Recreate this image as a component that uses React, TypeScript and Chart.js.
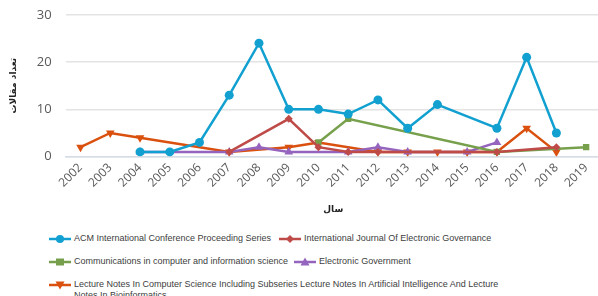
import React, { useEffect, useRef } from "react";
import { Chart, registerables } from "chart.js";

Chart.register(...registerables);

const years = ["2002","2003","2004","2005","2006","2007","2008","2009","2010","2011","2012","2013","2014","2015","2016","2017","2018","2019"];
const acm = [null, null, 1, 1, 3, 13, 24, 10, 10, 9, 12, 6, 11, null, 6, 21, 5, null];
const ijeg = [null, null, null, null, null, 1, null, 8, 2, 1, 1, null, null, null, 1, null, 2, null];
const ccis = [null, null, null, null, null, null, null, null, 3, 8, null, null, null, null, 1, null, null, 2];
const egov = [null, null, 1, null, null, 1, 2, 1, null, 1, 2, 1, null, 1, 3, null, null, null];
const lncs = [2, 5, 4, null, null, 1, null, 2, 3, null, 1, 1, 1, 1, 1, 6, 1, null];
const yTicks = [0, 10, 20, 30];

const seriesNames = [
  "ACM International Conference Proceeding Series",
  "International Journal Of Electronic Governance",
  "Communications in computer and information science",
  "Electronic Government",
  "Lecture Notes In Computer Science Including Subseries Lecture Notes In Artificial Intelligence And Lecture Notes In Bioinformatics",
];
const colors = ["#11A0D0", "#BE4B48", "#77A04C", "#9464BE", "#DA500E"];
const styles: any[] = ["circle", "rectRot", "rect", "triangle", "triangle"];
const rotations = [0, 0, 0, 0, 180];
const radii = [4.5, 4, 4.5, 5, 5];

function Icon({ i }: { i: number }) {
  const c = colors[i];
  let marker: any;
  if (i === 0) marker = <circle cx={11} cy={5} r={4} fill={c} />;
  else if (i === 1) marker = <polygon points="11,1 15,5 11,9 7,5" fill={c} />;
  else if (i === 2) marker = <rect x={7} y={1.5} width={8} height={7} fill={c} />;
  else if (i === 3) marker = <polygon points="11,0.5 15.5,8.5 6.5,8.5" fill={c} />;
  else marker = <polygon points="6.5,1.5 15.5,1.5 11,9.5" fill={c} />;
  return (
    <svg width={22} height={10} style={{ flex: "none", marginRight: 3 }}>
      <line x1={0} y1={5} x2={22} y2={5} stroke={c} strokeWidth={2.5} />
      {marker}
    </svg>
  );
}

function Item({ i, style }: { i: number; style?: any }) {
  return (
    <div style={{ display: "flex", alignItems: "flex-start", ...style }}>
      <div style={{ height: 12, display: "flex", alignItems: "center" }}><Icon i={i} /></div>
      <span>{seriesNames[i]}</span>
    </div>
  );
}

export default function App() {
  const ref = useRef<HTMLCanvasElement>(null);
  useEffect(() => {
    const data = [acm, ijeg, ccis, egov, lncs];
    const chart = new Chart(ref.current!, {
      type: "line",
      data: {
        labels: years,
        datasets: data.map((d, i) => ({
          label: seriesNames[i],
          data: d,
          borderColor: colors[i],
          backgroundColor: colors[i],
          borderWidth: 2.5,
          pointStyle: styles[i],
          pointRotation: rotations[i],
          pointRadius: radii[i],
          pointBorderWidth: 0,
          spanGaps: true,
          tension: 0,
        })),
      },
      options: {
        animation: false,
        responsive: false,
        layout: { padding: { left: 8, right: 1, top: 0, bottom: 0 } },
        plugins: { legend: { display: false }, tooltip: { enabled: false } },
        scales: {
          x: {
            offset: true,
            grid: { display: false, drawTicks: false },
            border: { color: "#D6DCE5", width: 1.5 },
            ticks: {
              minRotation: 45,
              maxRotation: 45,
              color: "#595959",
              font: { family: "Open Sans", size: 12 },
              padding: 4,
            },
            title: {
              display: true,
              text: "سال",
              color: "#222",
              font: { family: "DejaVu Sans", size: 9, weight: "bold" },
              padding: { top: 10, bottom: 0 },
            },
          },
          y: {
            min: 0,
            max: 30,
            afterBuildTicks: (s: any) => { s.ticks = yTicks.map((v) => ({ value: v })); },
            grid: { color: "#E3E3E3", lineWidth: 1.5, drawTicks: false },
            border: { display: false },
            ticks: {
              color: "#595959",
              font: { family: "Open Sans", size: 13 },
              padding: 14,
            },
            title: {
              display: true,
              text: "تعداد مقالات",
              color: "#222",
              font: { family: "DejaVu Sans", size: 9, weight: "bold" },
              padding: { top: 0, bottom: 4 },
            },
          },
        },
      },
    });
    return () => chart.destroy();
  }, []);

  return (
    <div style={{ position: "absolute", left: 0, top: 0, width: 598, height: 296, overflow: "hidden", background: "#fff" }}>
      <canvas ref={ref} width={606} height={222} style={{ display: "block", marginTop: -7 }} />
      <div style={{ position: "absolute", left: 49, top: 233, width: 471, fontFamily: "Liberation Sans, Arial", fontSize: 9, color: "#404040", lineHeight: "11px" }}>
        <div style={{ display: "flex" }}>
          <Item i={0} />
          <Item i={1} style={{ marginLeft: 8 }} />
        </div>
        <div style={{ display: "flex", marginTop: 11 }}>
          <Item i={2} />
          <Item i={3} style={{ marginLeft: 6 }} />
        </div>
        <div style={{ display: "flex", marginTop: 11 }}>
          <Item i={4} />
        </div>
      </div>
    </div>
  );
}
